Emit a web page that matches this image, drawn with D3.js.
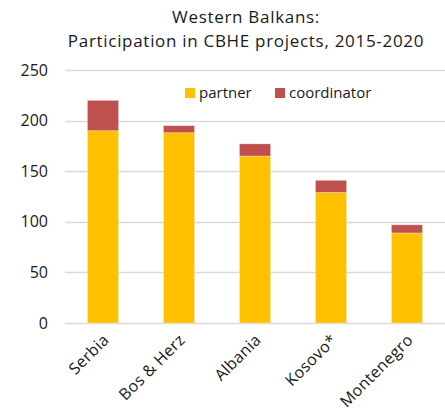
<!DOCTYPE html>
<html>
<head>
<meta charset="utf-8">
<script src="https://cdn.jsdelivr.net/npm/d3@7"></script>
<style>
  body { margin: 0; background: #fff; }
  svg text { font-family: "Open Sans", "DejaVu Sans", sans-serif; fill: #1a1a1a; }
</style>
</head>
<body>
<div id="chart"></div>
<script>
// data
var countries = ["Serbia", "Bos & Herz", "Albania", "Kosovo*", "Montenegro"];
var partner = [190, 188, 165, 129, 89];
var coordinator = [30, 7, 12, 12, 8];
var yTicks = [0, 50, 100, 150, 200, 250];
var seriesNames = ["partner", "coordinator"];
var seriesColors = ["#FFC000", "#C0504D"];

var width = 445, height = 408;
var margin = { left: 65, right: 0, top: 70, bottom: 85 };

var svg = d3.select("#chart").append("svg")
    .attr("width", width)
    .attr("height", height);

var x = d3.scaleBand()
    .domain(countries)
    .range([margin.left, width - margin.right])
    .paddingInner(0.59)
    .paddingOuter(0.295);

var y = d3.scaleLinear()
    .domain([0, 250])
    .range([height - margin.bottom, margin.top]);

// title
var title = svg.append("text")
    .attr("text-anchor", "middle")
    .style("font-size", "17px")
    .style("letter-spacing", "0.7px");
title.append("tspan").attr("x", 246).attr("y", 23).text("Western Balkans:");
title.append("tspan").attr("x", 246).attr("y", 47).text("Participation in CBHE projects, 2015-2020");

// gridlines
svg.append("g").selectAll("line")
    .data(yTicks)
    .join("line")
    .attr("x1", margin.left)
    .attr("x2", width - margin.right)
    .attr("y1", function (d) { return Math.round(y(d)) + 0.5; })
    .attr("y2", function (d) { return Math.round(y(d)) + 0.5; })
    .style("stroke", "#d9d9d9")
    .style("stroke-width", 1.5);

// y axis labels
var yAxis = d3.axisLeft(y).tickValues(yTicks).tickSize(0).tickPadding(0);
var yg = svg.append("g")
    .attr("transform", "translate(48,0)")
    .call(yAxis);
yg.select(".domain").remove();
yg.selectAll("text")
    .style("font-size", "16px")
    .style("font-family", "\"Open Sans\", \"DejaVu Sans\", sans-serif")
    .attr("fill", "#1a1a1a");

// stacked bars
var rows = countries.map(function (c, i) {
    return { country: c, partner: partner[i], coordinator: coordinator[i] };
});
var stack = d3.stack().keys(seriesNames)(rows);

svg.append("g").selectAll("g")
    .data(stack)
    .join("g")
    .attr("fill", function (d, i) { return seriesColors[i]; })
    .selectAll("rect")
    .data(function (d) { return d; })
    .join("rect")
    .attr("x", function (d) { return x(d.data.country); })
    .attr("y", function (d) { return y(d[1]); })
    .attr("width", x.bandwidth())
    .attr("height", function (d) { return y(d[0]) - y(d[1]); })
    .style("stroke", "rgba(255,255,255,0.5)")
    .style("stroke-width", 0.6);

// x labels, rotated
var xAxis = d3.axisBottom(x).tickSize(0).tickPadding(0);
var xg = svg.append("g")
    .attr("transform", "translate(0," + (height - margin.bottom) + ")")
    .call(xAxis);
xg.select(".domain").remove();
xg.selectAll("text")
    .style("font-size", "16px")
    .style("letter-spacing", "0.3px")
    .style("font-family", "\"Open Sans\", \"DejaVu Sans\", sans-serif")
    .attr("fill", "#1a1a1a")
    .attr("text-anchor", "end")
    .attr("dy", "0.35em")
    .attr("transform", "translate(3,14) rotate(-45)");

// legend
var legendX = [185, 275];
var legend = svg.append("g").selectAll("g")
    .data(seriesNames)
    .join("g")
    .attr("transform", function (d, i) { return "translate(" + legendX[i] + ",88)"; });
legend.append("rect")
    .attr("width", 10)
    .attr("height", 10)
    .attr("fill", function (d, i) { return seriesColors[i]; });
legend.append("text")
    .attr("x", 14)
    .attr("y", 10)
    .style("font-size", "15px")
    .text(function (d) { return d; });
</script>
</body>
</html>
